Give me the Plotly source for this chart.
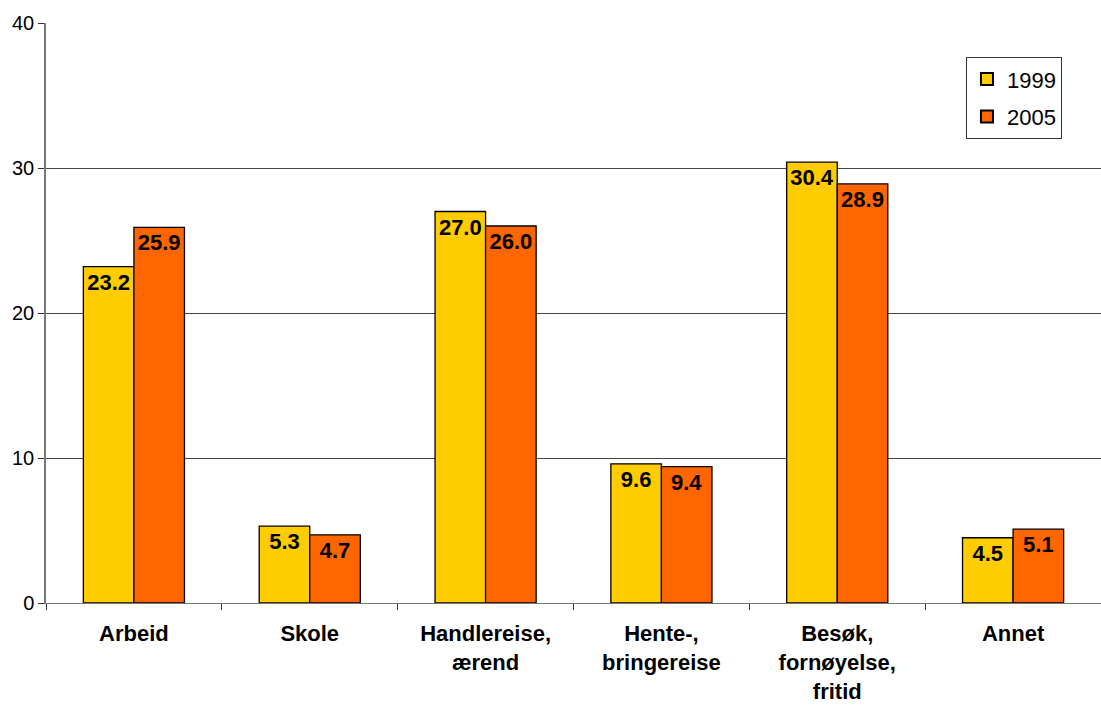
import plotly.graph_objects as go

categories = ["Arbeid", "Skole", "Handlereise,<br>ærend", "Hente-,<br>bringereise",
              "Besøk,<br>fornøyelse,<br>fritid", "Annet"]
values_1999 = [23.2, 5.3, 27.0, 9.6, 30.4, 4.5]
values_2005 = [25.9, 4.7, 26.0, 9.4, 28.9, 5.1]
y_ticks = [0, 10, 20, 30, 40]

FONT = "Liberation Sans, Arial, sans-serif"

fig = go.Figure()
for name, vals, color in [("1999", values_1999, "#FFCC00"), ("2005", values_2005, "#FF6600")]:
    fig.add_trace(go.Bar(
        name=name, x=categories, y=vals, legendgroup=name,
        marker=dict(color=color, line=dict(color="black", width=1.3)),
        text=[f"{v:.1f}" for v in vals], textposition="inside", insidetextanchor="end",
        textangle=0, constraintext="none",
        textfont=dict(family=FONT, size=22, color="black", weight="bold"),
    ))

fig.update_layout(
    width=1101, height=709, barmode="group", bargap=0.425, bargroupgap=0,
    margin=dict(l=46, r=0, t=23, b=106, autoexpand=False),
    paper_bgcolor="white", plot_bgcolor="white",
    font=dict(family=FONT, color="black"),
    uniformtext=dict(mode=False),
    legend=dict(x=0.872, y=0.941, xanchor="left", yanchor="top",
                bordercolor="#333", borderwidth=1, font=dict(size=22, family=FONT),
                bgcolor="white", itemsizing="constant", itemwidth=30, tracegroupgap=6),
    showlegend=True,
)
fig.update_xaxes(showline=True, linecolor="#777", linewidth=1, automargin=False,
                 ticks="outside", tickson="boundaries", ticklen=6, tickcolor="#333",
                 ticklabelstandoff=11,
                 tickfont=dict(size=22, family=FONT, weight="bold"), showgrid=False)
fig.update_yaxes(range=[0, 40], tickvals=y_ticks, showgrid=True, gridcolor="#444", gridwidth=1,
                 showline=True, linecolor="#777", linewidth=1.5, ticks="outside", ticklen=6,
                 automargin=False,
                 tickcolor="#333", tickfont=dict(size=20, family=FONT), zeroline=False)

fig.write_html("out.html")
